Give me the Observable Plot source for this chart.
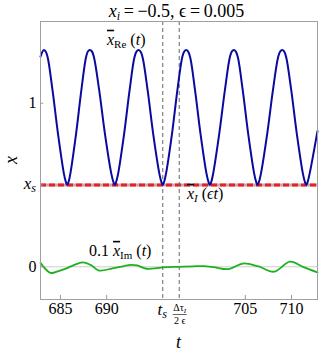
<!DOCTYPE html>
<html><head><meta charset="utf-8">
<script src="https://cdn.jsdelivr.net/npm/d3@7"></script>
<script src="https://cdn.jsdelivr.net/npm/@observablehq/plot@0.6"></script>
<style>
body{margin:0;background:#fff;} svg{display:block;}
svg text, svg tspan { font-family: "Liberation Serif" !important; }
</style>
</head><body><div id="chart"></div>
<script>
const tBlue = [682.84,683.19,683.39,683.62,684.14,684.74,685.37,685.58,685.73,685.88,686.07,686.68,687.26,687.76,687.98,688.17,688.39,688.63,689.19,689.82,690.50,690.72,690.88,691.03,691.24,691.88,692.48,693.00,693.24,693.44,693.65,693.89,694.43,695.04,695.70,695.91,696.07,696.22,696.42,697.06,697.65,698.17,698.40,698.60,698.80,699.04,699.56,700.16,700.80,701.01,701.16,701.32,701.52,702.17,702.79,703.32,703.55,703.76,703.96,704.20,704.72,705.32,705.96,706.17,706.32,706.48,706.69,707.36,707.99,708.54,708.78,708.99,709.20,709.43,709.97,710.58,711.23,711.44,711.60,711.75,711.96,712.81];
const xBlue = [1.285,1.325,1.318,1.28,1.08,0.81,0.57,0.52,0.50,0.52,0.57,0.81,1.08,1.28,1.318,1.325,1.318,1.28,1.08,0.81,0.57,0.52,0.50,0.52,0.57,0.81,1.08,1.28,1.318,1.325,1.318,1.28,1.08,0.81,0.57,0.52,0.50,0.52,0.57,0.81,1.08,1.28,1.318,1.325,1.318,1.28,1.08,0.81,0.57,0.52,0.50,0.52,0.57,0.81,1.08,1.28,1.318,1.325,1.318,1.28,1.08,0.81,0.57,0.52,0.50,0.52,0.57,0.81,1.08,1.28,1.318,1.325,1.318,1.28,1.08,0.81,0.57,0.52,0.50,0.52,0.57,0.83];
const tGreen = [682.84,683.92,684.8,685.73,687.38,688.25,689.17,690.74,692.22,692.6,693.3,694.31,696.15,697.77,699.39,700.48,701.56,703.21,704.75,706.43,708.11,709.84,711.3,712.81];
const xGreen = [0.024,-0.037,-0.026,-0.008,0.027,0.012,-0.023,-0.008,0.008,0.012,0.008,-0.012,-0.003,0.0,0.003,0.004,-0.002,-0.014,0.020,0.002,-0.030,0.032,-0.002,-0.034];
const xs = 0.5;
const tS = 696.07;
const tS2 = 697.85;
const xTicks = [685, 690, 705, 710];
const yTicks = [0, 1];
const tDomain = [682.84, 712.81];
const xDomain = [-0.2, 1.5];

const blue = tBlue.map((t, i) => ({t, x: xBlue[i]}));
const green = tGreen.map((t, i) => ({t, x: xGreen[i]}));
const FONT = "Liberation Serif";

const fig = Plot.plot({
  width: 319, height: 352,
  marginTop: 21, marginBottom: 53, marginLeft: 40, marginRight: 2,
  style: {fontFamily: FONT, fontSize: "16px", background: "#fff", color: "#000"},
  x: {domain: tDomain, label: null},
  y: {domain: xDomain, label: null},
  marks: [
    Plot.ruleY([0], {stroke: "#cccccc", strokeWidth: 1}),
    Plot.ruleY([xs], {stroke: "#c8a8a8", strokeWidth: 3}),
    Plot.ruleY([xs], {stroke: "#e8202a", strokeWidth: 3, strokeDasharray: "6,3"}),
    Plot.ruleX([tS, tS2], {stroke: "#666", strokeWidth: 1, strokeDasharray: "4,3"}),
    Plot.line(blue, {x: "t", y: "x", stroke: "#0a0aa0", strokeWidth: 2, curve: "catmull-rom"}),
    Plot.line(green, {x: "t", y: "x", stroke: "#1db11d", strokeWidth: 1.8, curve: "catmull-rom"}),
    Plot.ruleX(xTicks, {y1: xDomain[0], y2: xDomain[0] + 0.025, stroke: "#999"}),
    Plot.ruleY([0, xs, 1], {x1: tDomain[0], x2: tDomain[0] + 0.35, stroke: "#999"}),
    Plot.frame({stroke: "#a0a0a0"}),
    Plot.axisX({ticks: xTicks, tickSize: 0, tickPadding: 3, tickFormat: d => String(d), fontSize: 16, label: null}),
    Plot.axisY({ticks: yTicks, tickSize: 0, tickPadding: 4, tickFormat: d => String(d), fontSize: 16, label: null})
  ]
});
document.getElementById("chart").appendChild(fig);

const sx = fig.scale("x"), sy = fig.scale("y");
const svg = d3.select(fig);

function rich(x, y, parts, opts = {}) {
  const t = svg.append("text")
    .attr("x", x).attr("y", y)
    .attr("font-family", FONT)
    .attr("font-size", opts.size || 16)
    .attr("text-anchor", opts.anchor || "start")
    .attr("fill", "#000");
  if (opts.rotate) t.attr("transform", `rotate(-90 ${x} ${y})`);
  let shift = 0;
  for (const p of parts) {
    const s = t.append("tspan").text(p.text);
    if (p.italic) s.attr("font-style", "italic");
    if (p.size) s.attr("font-size", p.size);
    if (p.over) s.style("text-decoration", "overline");
    const target = p.sub ? p.sub : 0;
    if (target !== shift) { s.attr("dy", target - shift); shift = target; }
  }
  return t;
}

const cx = (sx.apply(tDomain[0]) + sx.apply(tDomain[1])) / 2;
// title
rich(cx - 2, 17, [
  {text: "x", italic: true}, {text: "i", italic: true, size: 12, sub: 3},
  {text: "\u2009=\u2009\u22120.5, "}, {text: "\u03F5"}, {text: "\u2009=\u20090.005"}
], {anchor: "middle", size: 18});

// curve labels
rich(sx.apply(690.09), sy.apply(1.355), [
  {text: "x", italic: true, over: true}, {text: "Re", size: 11, sub: 3},
  {text: " ("}, {text: "t", italic: true}, {text: ")"}
], {size: 16});
rich(sx.apply(698.74), sy.apply(0.413), [
  {text: "x", italic: true, over: true}, {text: "I", italic: true, size: 11, sub: 3},
  {text: " ("}, {text: "\u03F5t", italic: true}, {text: ")"}
], {size: 16});
rich(sx.apply(688.14), sy.apply(0.064), [
  {text: "0.1 "}, {text: "x", italic: true, over: true}, {text: "Im", size: 11, sub: 3},
  {text: " ("}, {text: "t", italic: true}, {text: ")"}
], {size: 16});

// y tick x_s
rich(36, sy.apply(xs) + 4, [
  {text: "x", italic: true}, {text: "s", italic: true, size: 12, sub: 3}
], {anchor: "end", size: 17});

// x tick t_s and fraction
rich(sx.apply(tS), 315, [
  {text: "t", italic: true}, {text: "s", italic: true, size: 12, sub: 3}
], {anchor: "middle", size: 17});
const fx = sx.apply(tS2) + 1;
rich(fx, 311, [
  {text: "\u0394\u03C4"}, {text: "I", italic: true, size: 7, sub: 2}
], {anchor: "middle", size: 10});
svg.append("line").attr("x1", fx - 7).attr("x2", fx + 7).attr("y1", 314.5).attr("y2", 314.5)
  .attr("stroke", "#000").attr("stroke-width", 0.6);
rich(fx, 324, [{text: "2 "}, {text: "\u03F5"}], {anchor: "middle", size: 10});

// axis labels
rich(cx, 348, [{text: "t", italic: true}], {anchor: "middle", size: 18});
rich(17, 160, [{text: "x", italic: true}], {anchor: "middle", size: 18, rotate: true});
</script>
</body></html>
